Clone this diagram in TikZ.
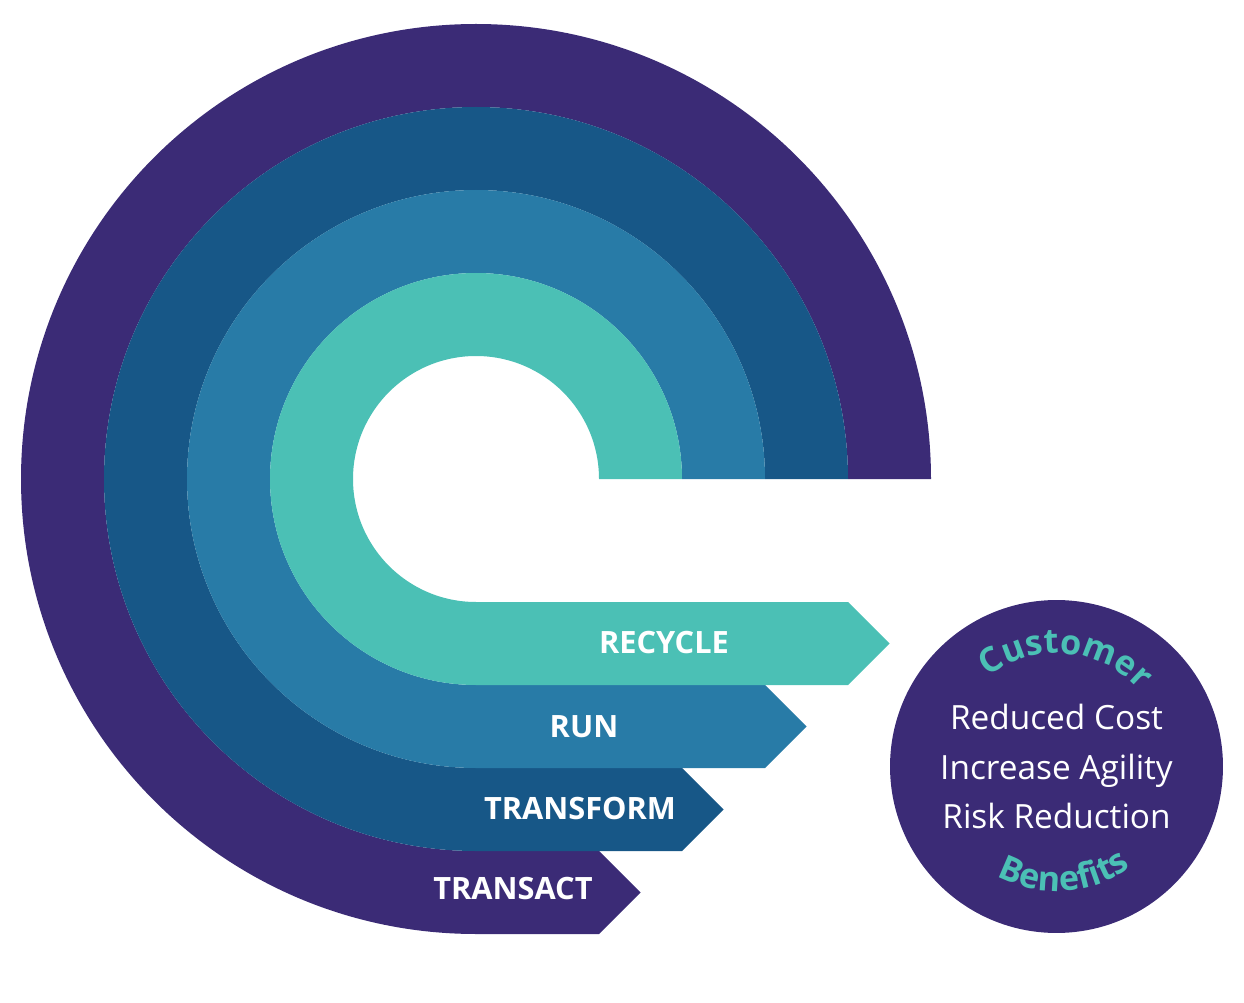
\documentclass[tikz,border=0pt]{standalone}
\usepackage{fontspec}
\setmainfont{Open Sans}
\usetikzlibrary{decorations.text}
\definecolor{ringpurple}{HTML}{3B2B76}
\definecolor{ringnavy}{HTML}{175787}
\definecolor{ringblue}{HTML}{287BA7}
\definecolor{ringteal}{HTML}{4BC0B5}
\newcommand{\curvefont}{\bfseries\fontsize{19.5}{21}\selectfont\color{ringteal}}

\begin{document}
\begin{tikzpicture}[x=.02cm,y=.02cm,
  bandlabel/.style={text=white,font=\bfseries\fontsize{17.5}{20}\selectfont,inner sep=0pt},
  gainlist/.style={text=white,align=center,font=\fontsize{19}{28}\selectfont,inner sep=0pt},
  curved/.style={decorate,decoration={text along path,text align=center,text={|\curvefont|#1}}}]
\useasboundingbox (0,0) rectangle (1244,1002);
% the four bands, outside in
\foreach \ri/\col in {372/ringpurple,289/ringnavy,206/ringblue,123/ringteal}{
  \pgfmathsetmacro{\ro}{\ri+83}
  \fill[\col] (476+\ri,523)--(476+\ro,523) arc[start angle=0,end angle=270,radius=\ro]
    --(1054-\ro,523-\ro)--(1095.5-\ro,481.5-\ri)--(1054-\ro,523-\ri)--(476,523-\ri)
    arc[start angle=270,end angle=0,radius=\ri]--cycle;
}
\node[bandlabel] (recycle) at (664,359) {RECYCLE};
\node[bandlabel] (run) at (584,275) {RUN};
\node[bandlabel] (transform) at (580,194) {TRANSFORM};
\node[bandlabel] (transact) at (513,113) {TRANSACT};
% benefits disc
\node[circle,fill=ringpurple,minimum size=6.66cm,inner sep=0pt] (benefits) at (1056.5,235.5) {};
\node[gainlist] (gains) at (benefits.center) {Reduced Cost\\Increase Agility\\Risk Reduction};
\path[curved=Customer] (benefits.center) ++(150:113) arc[start angle=150,end angle=20,radius=113];
\path[curved=Benefits] (benefits.center) ++(205:125) arc[start angle=205,end angle=343,radius=125];
\end{tikzpicture}
\end{document}
